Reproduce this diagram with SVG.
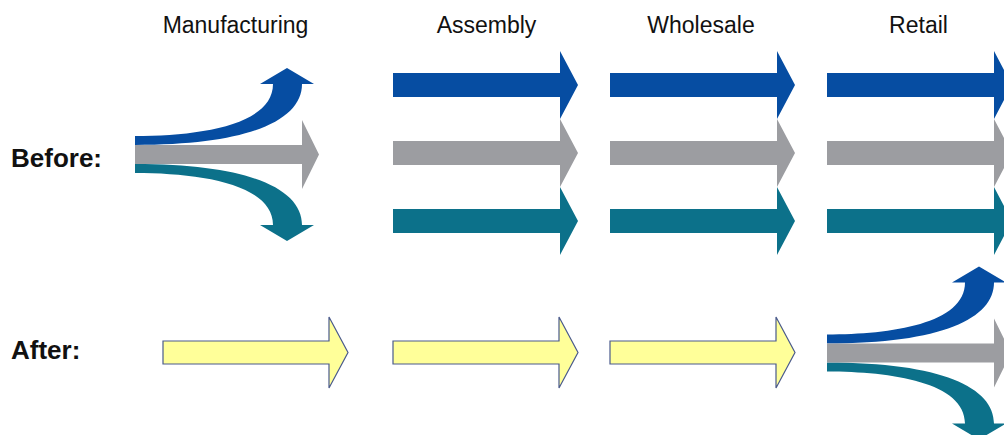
<svg xmlns="http://www.w3.org/2000/svg" xmlns:xlink="http://www.w3.org/1999/xlink" width="1004" height="435" viewBox="0 0 1004 435">
  <style>
    .stage { font-family: "Liberation Sans", Arial, sans-serif; font-size: 23px; fill: #111; text-anchor: middle; }
    .row { font-family: "Liberation Sans", Arial, sans-serif; font-size: 26px; font-weight: bold; fill: #111; }
    .blue { fill: #064da2; }
    .gray { fill: #9c9da1; }
    .teal { fill: #0c718a; }
    .yellow { fill: #ffff99; stroke: #4a5a8c; stroke-width: 1.2; stroke-linejoin: miter; }
  </style>
  <defs>
    <!-- straight block arrow, origin at left end of shaft centre line -->
    <path id="flow" d="M0,-12 H167 V-34 L185,0 L167,34 V12 H0 Z"/>
    <path id="flowY" d="M0,-11.5 H166 V-35.5 L185,0 L166,35.5 V11.5 H0 Z"/>
    <!-- three-way split: one stream fanning out into blue, gray and teal -->
    <g id="split">
      <path class="blue" d="M0,136 C65,136 138,125 138,84 H125 L152,68 L179,84 H167 C167,120 115,145 0,145 Z"/>
      <path class="teal" d="M0,173 C65,173 138,184 138,225 H125 L152,241 L179,225 H167 C167,189 115,164 0,164 Z"/>
      <path class="gray" d="M0,145 H167 V120 L184,154.5 L167,189 V164 H0 Z"/>
    </g>
  </defs>

  <!-- headings -->
  <g id="labels">
    <text class="stage" x="235.5" y="33">Manufacturing</text>
    <text class="stage" x="486.5" y="33">Assembly</text>
    <text class="stage" x="701" y="33">Wholesale</text>
    <text class="stage" x="918.5" y="33">Retail</text>
    <text class="row" x="11" y="167">Before:</text>
    <text class="row" x="11" y="359">After:</text>
  </g>

  <!-- before: split at manufacturing, separate streams afterwards -->
  <g id="before-manufacturing">
    <use xlink:href="#split" href="#split" transform="translate(135,0)"/>
  </g>
  <g id="before-assembly">
    <use class="blue" href="#flow" xlink:href="#flow" transform="translate(393,85)"/>
    <use class="gray" href="#flow" xlink:href="#flow" transform="translate(393,153)"/>
    <use class="teal" href="#flow" xlink:href="#flow" transform="translate(393,221)"/>
  </g>
  <g id="before-wholesale">
    <use class="blue" href="#flow" xlink:href="#flow" transform="translate(610,85)"/>
    <use class="gray" href="#flow" xlink:href="#flow" transform="translate(610,153)"/>
    <use class="teal" href="#flow" xlink:href="#flow" transform="translate(610,221)"/>
  </g>
  <g id="before-retail">
    <use class="blue" href="#flow" xlink:href="#flow" transform="translate(827,85)"/>
    <use class="gray" href="#flow" xlink:href="#flow" transform="translate(827,153)"/>
    <use class="teal" href="#flow" xlink:href="#flow" transform="translate(827,221)"/>
  </g>

  <!-- after: single stream until retail, split at the end -->
  <g id="after-manufacturing">
    <use class="yellow" href="#flowY" xlink:href="#flowY" transform="translate(163,352.5)"/>
  </g>
  <g id="after-assembly">
    <use class="yellow" href="#flowY" xlink:href="#flowY" transform="translate(393,352.5)"/>
  </g>
  <g id="after-wholesale">
    <use class="yellow" href="#flowY" xlink:href="#flowY" transform="translate(610,352.5)"/>
  </g>
  <g id="after-retail">
    <use href="#split" xlink:href="#split" transform="translate(827,198.5)"/>
  </g>

  <g id="connectors"/>
</svg>
